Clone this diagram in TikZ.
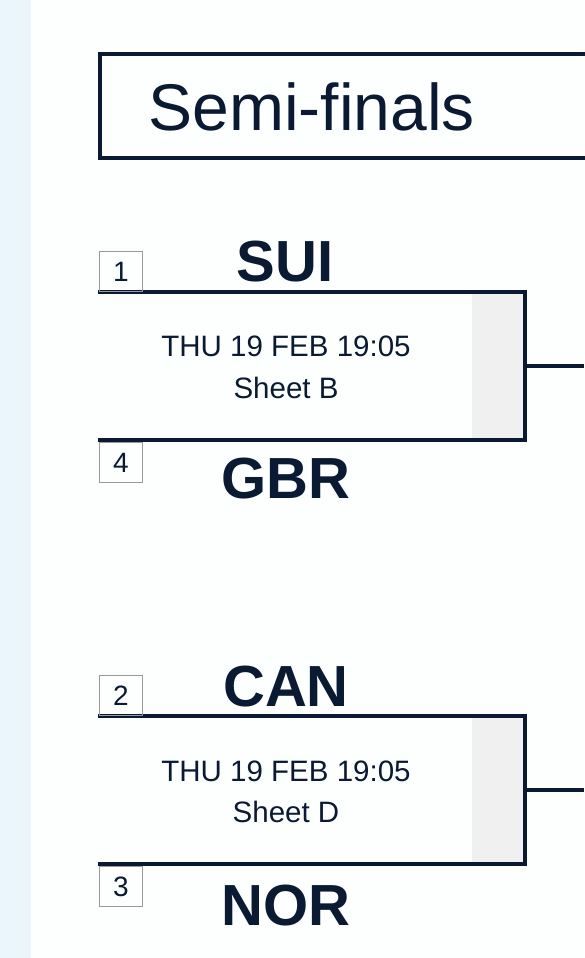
\documentclass[tikz,border=0pt]{standalone}
\usepackage{fontspec}
\setmainfont{Liberation Sans}
\definecolor{navy}{HTML}{0B1A33}
\definecolor{strip}{HTML}{EAF6FB}
\definecolor{bg}{HTML}{FDFEFE}
\definecolor{greyband}{HTML}{F0F0F1}
\begin{document}
\begin{tikzpicture}[x=1pt,y=-1pt,
  frame/.style={draw=navy,line width=3.6pt},
  bline/.style={draw=navy,line width=3.6pt},
  seedbox/.style={draw=gray!80,line width=0.9pt,minimum width=43pt,minimum height=40pt,inner sep=0pt,anchor=north west,font=\fontsize{28}{30}\selectfont,text=navy},
  team/.style={anchor=base,font=\fontsize{58}{64}\selectfont\bfseries,text=navy},
  info/.style={anchor=base,font=\fontsize{29.5}{33}\selectfont,text=navy}]
\useasboundingbox (0,0) rectangle (584,958);
\fill[bg] (0,0) rectangle (584,958);
\fill[strip] (0,0) rectangle (31,958);
% title
\draw[frame] (600,54) -- (100,54) -- (100,158) -- (600,158);
\node[anchor=base west,font=\fontsize{66}{70}\selectfont,text=navy] (title) at (145,130) {Semi-finals};
% bracket 1
\fill[greyband] (472,294) rectangle (523,438);
\coordinate (a1) at (98,292);
\coordinate (a2) at (525,292);
\coordinate (a3) at (525,440);
\coordinate (a4) at (98,440);
\coordinate (am) at (525,366);
\coordinate (ae) at (584,366);
\draw[bline,line join=miter] (a1) -- (a2) -- (a3) -- (a4);
\draw[bline] (am) -- (ae);
\node[seedbox] (s1) at (99,251) {1};
\node[seedbox] (s4) at (99,442) {4};
\node[team] (sui) at (285,281) {SUI};
\node[team] (gbr) at (286,498) {GBR};
\node[info] (d1) at (286,356) {THU 19 FEB 19:05};
\node[info] (sh1) at (286,398) {Sheet B};
% bracket 2
\fill[greyband] (472,718) rectangle (523,862);
\coordinate (b1) at (98,716);
\coordinate (b2) at (525,716);
\coordinate (b3) at (525,864);
\coordinate (b4) at (98,864);
\coordinate (bm) at (525,790);
\coordinate (be) at (584,790);
\draw[bline,line join=miter] (b1) -- (b2) -- (b3) -- (b4);
\draw[bline] (bm) -- (be);
\node[seedbox] (s2) at (99,675) {2};
\node[seedbox] (s3) at (99,866) {3};
\node[team] (can) at (286,706) {CAN};
\node[team] (nor) at (286,925) {NOR};
\node[info] (d2) at (286,781) {THU 19 FEB 19:05};
\node[info] (sh2) at (286,822) {Sheet D};
\end{tikzpicture}
\end{document}
